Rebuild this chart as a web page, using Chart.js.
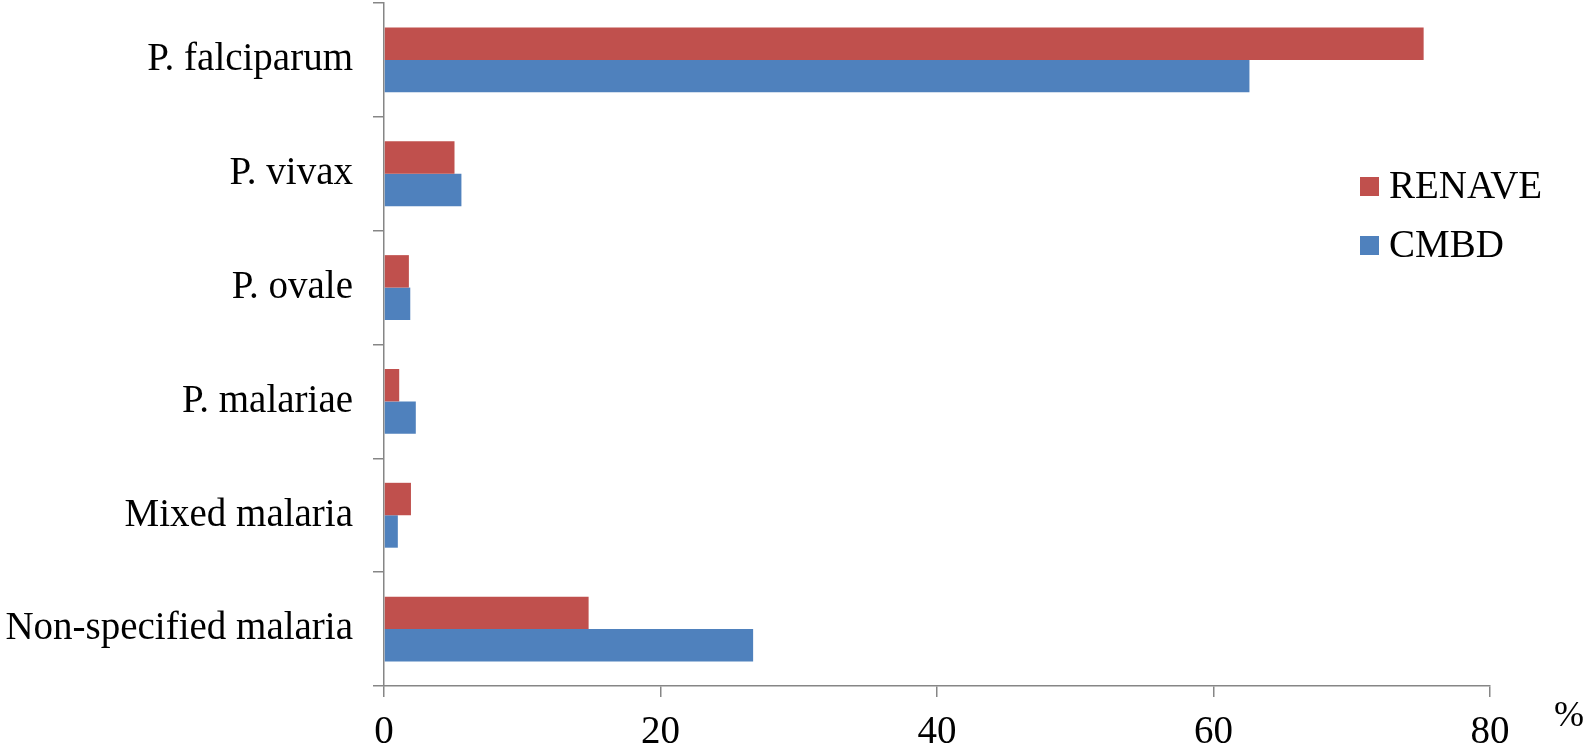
<!DOCTYPE html>
<html>
<head>
<meta charset="utf-8">
<script src="https://cdn.jsdelivr.net/npm/chart.js@4.4.1/dist/chart.umd.min.js"></script>
<style>
  html, body { margin: 0; padding: 0; background: #fff; }
  #wrap { width: 1583px; height: 747px; position: relative; }
</style>
</head>
<body>
<div id="wrap"><canvas id="report"></canvas></div>
<script>
const categories = ["P. falciparum", "P. vivax", "P. ovale", "P. malariae", "Mixed malaria", "Non-specified malaria"];
const renave = [75.2, 5.1, 1.8, 1.1, 1.95, 14.8];
const cmbd = [62.6, 5.6, 1.9, 2.3, 1.0, 26.7];
const xTicks = [0, 20, 40, 60, 80];
const seriesNames = ["RENAVE", "CMBD"];
const unitLabel = "%";

const red = "#C0504D";
const blue = "#4F81BD";
const axisGray = "#868686";
const serif = "'Liberation Serif', 'Times New Roman', serif";

// legend + % sign drawn inside the chart area like the original
const extras = {
    id: "extras",
    afterDraw(chart) {
        const ctx = chart.ctx;
        const area = chart.chartArea;
        ctx.save();
        ctx.font = "39px " + serif;
        ctx.textBaseline = "middle";
        ctx.textAlign = "left";
        chart.data.datasets.forEach((ds, i) => {
            const y = 186 + i * 59;
            ctx.fillStyle = ds.backgroundColor;
            ctx.fillRect(1360, y - 9, 19, 19);
            ctx.fillStyle = "#000";
            ctx.fillText(ds.label, 1389, y + 2);
        });
        ctx.font = "36px " + serif;
        ctx.fillText(unitLabel, area.right + 64, 717);
        ctx.restore();
    }
};

const ctx = document.getElementById("report").getContext("2d");
const myChart = new Chart(ctx, {
    type: "bar",
    data: {
        labels: categories,
        datasets: [
            { label: seriesNames[0], data: renave, backgroundColor: red, borderWidth: 0 },
            { label: seriesNames[1], data: cmbd, backgroundColor: blue, borderWidth: 0 }
        ]
    },
    options: {
        indexAxis: "y",
        responsive: true,
        maintainAspectRatio: false,
        animation: false,
        layout: { padding: { top: 3, right: 93, left: 0, bottom: 0 } },
        plugins: {
            legend: { display: false },
            tooltip: { enabled: false }
        },
        datasets: {
            bar: { categoryPercentage: 0.57, barPercentage: 1.0 }
        },
        scales: {
            x: {
                min: 0,
                max: 80,
                afterBuildTicks(axis) {
                    axis.ticks = xTicks.map(v => ({ value: v }));
                },
                afterFit(axis) { axis.height = 61; },
                border: { display: true, color: axisGray, width: 1.5 },
                grid: { display: true, drawOnChartArea: false, drawTicks: true, tickLength: 11, color: axisGray, lineWidth: 1.5 },
                ticks: { color: "#000", font: { family: serif, size: 39 }, padding: 12, maxRotation: 0 }
            },
            y: {
                afterFit(axis) {
                    axis.width = 384;
                    axis.paddingTop = 0;
                    axis.paddingBottom = 0;
                },
                border: { display: true, color: axisGray, width: 1.5 },
                grid: { display: true, offset: true, drawOnChartArea: false, drawTicks: true, tickLength: 11, color: axisGray, lineWidth: 1.5 },
                ticks: { color: "#000", font: { family: serif, size: 39 }, padding: 20 }
            }
        }
    },
    plugins: [extras]
});
</script>
</body>
</html>
